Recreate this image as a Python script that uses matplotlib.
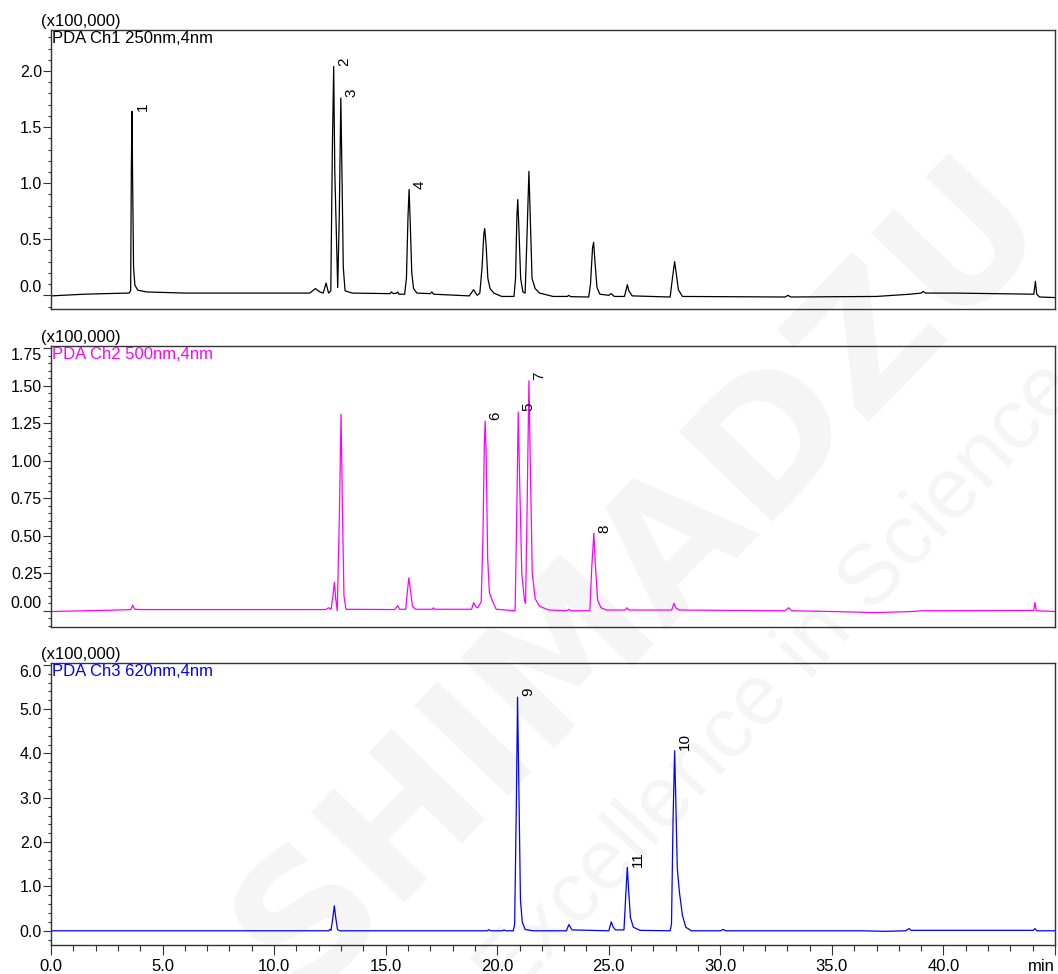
import numpy as np
import matplotlib.pyplot as plt
from matplotlib.ticker import MultipleLocator, FormatStrFormatter

plt.rcParams.update({
    "font.family": ["Liberation Sans", "DejaVu Sans"],
    "font.size": 11,
    "axes.linewidth": 1.0,
    "axes.edgecolor": "#333333",
})

# ---- chromatogram traces (time in min, signal in x100,000) ----
ch1_points = [
    (0.00, -0.005), (1.50, 0.010), (3.00, 0.018), (3.50, 0.020), (3.57, 0.040),
    (3.60, 1.100), (3.63, 1.640), (3.66, 1.000), (3.70, 0.250), (3.76, 0.090),
    (3.90, 0.045), (4.30, 0.030), (6.00, 0.020), (11.60, 0.020), (11.85, 0.060),
    (12.05, 0.030), (12.20, 0.020), (12.33, 0.110), (12.44, 0.020), (12.54, 0.040),
    (12.61, 1.300), (12.67, 2.040), (12.72, 1.100), (12.85, 0.070), (12.92, 0.700),
    (12.99, 1.760), (13.04, 1.100), (13.10, 0.250), (13.18, 0.040), (13.50, 0.020),
    (15.20, 0.015), (15.25, 0.030), (15.35, 0.015), (15.50, 0.020), (15.54, 0.030),
    (15.60, 0.010), (15.85, 0.010), (15.93, 0.150), (16.00, 0.700), (16.05, 0.945),
    (16.10, 0.650), (16.17, 0.200), (16.25, 0.060), (16.40, 0.020), (17.00, 0.015),
    (17.07, 0.030), (17.15, 0.010), (18.75, -0.005), (18.94, 0.050), (19.10, 0.000),
    (19.22, 0.020), (19.32, 0.250), (19.40, 0.550), (19.44, 0.595), (19.50, 0.450),
    (19.58, 0.150), (19.68, 0.060), (19.85, 0.020), (20.20, -0.010), (20.75, -0.010),
    (20.82, 0.150), (20.88, 0.700), (20.92, 0.854), (20.97, 0.600), (21.05, 0.150),
    (21.15, 0.030), (21.25, 0.020), (21.33, 0.500), (21.42, 1.106), (21.48, 0.700),
    (21.56, 0.150), (21.70, 0.060), (21.90, 0.020), (22.50, -0.010), (23.15, -0.010),
    (23.20, 0.000), (23.30, -0.012), (24.10, -0.015), (24.18, 0.100), (24.27, 0.420),
    (24.32, 0.473), (24.38, 0.300), (24.47, 0.070), (24.60, 0.010), (25.00, 0.000),
    (25.10, 0.015), (25.25, -0.010), (25.70, -0.010), (25.78, 0.050), (25.83, 0.095),
    (25.90, 0.040), (26.05, -0.005), (27.75, -0.015), (27.85, 0.150), (27.95, 0.300),
    (28.02, 0.200), (28.12, 0.050), (28.30, -0.010), (32.90, -0.015), (33.03, 0.000),
    (33.15, -0.015), (37.00, -0.010), (38.50, 0.010), (39.00, 0.020), (39.09, 0.035),
    (39.20, 0.020), (40.50, 0.020), (44.05, 0.010), (44.12, 0.125), (44.18, 0.010),
    (44.30, -0.015), (45.00, -0.020),
]

ch2_points = [
    (0.00, -0.005), (3.00, 0.005), (3.58, 0.008), (3.66, 0.037), (3.75, 0.010),
    (4.00, 0.008), (12.30, 0.008), (12.45, 0.020), (12.55, 0.010), (12.64, 0.100),
    (12.70, 0.190), (12.76, 0.080), (12.83, 0.000), (12.92, 0.600), (13.00, 1.310),
    (13.06, 0.700), (13.13, 0.100), (13.22, 0.010), (15.40, 0.008), (15.54, 0.034),
    (15.62, 0.010), (15.90, 0.010), (15.98, 0.140), (16.04, 0.220), (16.10, 0.150),
    (16.20, 0.030), (16.35, 0.010), (17.10, 0.010), (17.14, 0.020), (17.20, 0.010),
    (18.85, 0.010), (18.94, 0.054), (19.05, 0.025), (19.13, 0.020), (19.28, 0.060),
    (19.36, 0.500), (19.42, 1.100), (19.46, 1.265), (19.51, 1.000), (19.57, 0.350),
    (19.65, 0.120), (19.80, 0.060), (19.95, 0.010), (20.80, 0.000), (20.87, 0.600),
    (20.94, 1.325), (21.00, 0.900), (21.10, 0.250), (21.22, 0.070), (21.27, 0.050),
    (21.33, 0.600), (21.42, 1.534), (21.48, 1.000), (21.57, 0.250), (21.70, 0.080),
    (21.90, 0.030), (22.30, 0.005), (23.10, 0.000), (23.22, 0.010), (23.30, 0.000),
    (24.15, 0.000), (24.24, 0.300), (24.33, 0.517), (24.40, 0.300), (24.50, 0.070),
    (24.65, 0.020), (24.90, 0.005), (25.75, 0.005), (25.81, 0.020), (25.90, 0.005),
    (27.82, 0.005), (27.92, 0.050), (28.00, 0.020), (28.15, 0.005), (32.90, 0.000),
    (33.06, 0.020), (33.20, 0.000), (35.00, -0.005), (37.00, -0.012), (38.60, -0.005),
    (39.00, 0.000), (44.05, 0.002), (44.10, 0.055), (44.16, 0.000), (45.00, -0.005),
]

ch3_points = [
    (0.00, 0.000), (12.45, 0.000), (12.50, 0.030), (12.55, 0.010), (12.62, 0.250),
    (12.70, 0.565), (12.76, 0.300), (12.84, 0.030), (12.95, 0.000), (19.55, 0.000),
    (19.62, 0.025), (19.70, 0.000), (20.25, 0.000), (20.30, 0.020), (20.38, 0.000),
    (20.72, 0.000), (20.78, 0.150), (20.86, 3.000), (20.91, 5.270), (20.97, 3.200),
    (21.04, 0.700), (21.12, 0.200), (21.25, 0.030), (21.60, 0.000), (23.10, 0.000),
    (23.21, 0.140), (23.35, 0.020), (25.00, 0.000), (25.11, 0.200), (25.20, 0.080),
    (25.30, 0.020), (25.68, 0.020), (25.76, 0.800), (25.83, 1.430), (25.89, 0.900),
    (25.97, 0.300), (26.10, 0.080), (26.40, 0.010), (27.75, 0.000), (27.81, 0.150),
    (27.88, 2.500), (27.95, 4.060), (28.00, 3.000), (28.07, 1.400), (28.17, 0.850),
    (28.30, 0.350), (28.45, 0.080), (28.70, 0.000), (30.00, 0.000), (30.12, 0.030),
    (30.25, 0.000), (36.30, 0.000), (37.40, -0.012), (38.30, 0.000), (38.46, 0.050),
    (38.55, 0.010), (44.02, 0.010), (44.10, 0.050), (44.18, 0.000), (45.00, 0.000),
]

# peak numbers and their retention times
ch1_peak_labels = ["1", "2", "3", "4"]
ch1_peak_times = [3.63, 12.67, 12.99, 16.05]
ch2_peak_labels = ["6", "5", "7", "8"]
ch2_peak_times = [19.46, 20.94, 21.42, 24.33]
ch3_peak_labels = ["9", "11", "10"]
ch3_peak_times = [20.91, 25.83, 27.95]

channel_names = ["PDA Ch1 250nm,4nm", "PDA Ch2 500nm,4nm", "PDA Ch3 620nm,4nm"]
channel_colors = ["black", "#ff00ff", "#0000ff"]

x_tick_values = [0, 5, 10, 15, 20, 25, 30, 35, 40, 45]
x_tick_labels = ["0.0", "5.0", "10.0", "15.0", "20.0", "25.0", "30.0", "35.0", "40.0", "min"]

fig = plt.figure(figsize=(10.58, 9.74), dpi=100)

# faint watermark behind everything
fig.text(0.605, 0.41, "SHIMADZU", fontsize=128, fontweight="bold",
         family="DejaVu Sans", color="#f5f5f5", rotation=46,
         ha="center", va="center", rotation_mode="anchor", zorder=-5)
fig.text(0.735, 0.30, "Excellence in Science", fontsize=62,
         color="#f5f5f5", rotation=47, ha="center", va="center",
         rotation_mode="anchor", zorder=-5)

# axes boxes: [left, bottom, width, height]
boxes = [
    [0.0482, 0.6824, 0.9490, 0.2868],
    [0.0482, 0.3563, 0.9490, 0.2888],
    [0.0482, 0.0298, 0.9490, 0.2895],
]
ylims = [(-0.125, 2.366), (-0.108, 1.768), (-0.32, 6.04)]
y_major = [0.5, 0.25, 1.0]
y_minor = [0.1, 0.05, 0.2]
y_fmt = ["%.1f", "%.2f", "%.1f"]

all_points = [ch1_points, ch2_points, ch3_points]
all_labels = [ch1_peak_labels, ch2_peak_labels, ch3_peak_labels]
all_times = [ch1_peak_times, ch2_peak_times, ch3_peak_times]

for i in range(3):
    ax = fig.add_axes(boxes[i])
    ax.patch.set_alpha(0.0)
    t = np.array([p[0] for p in all_points[i]])
    s = np.array([p[1] for p in all_points[i]])
    ax.plot(t, s, color=channel_colors[i], lw=0.9)

    for lab, pt in zip(all_labels[i], all_times[i]):
        k = np.argmin(np.abs(t - pt))
        ax.annotate(lab, xy=(t[k], s[k]), xytext=(2.5, 0.5),
                    textcoords="offset points", rotation=90,
                    ha="left", va="bottom", fontsize=11, color="black")

    ax.set_xlim(0, 45)
    ax.set_ylim(*ylims[i])
    ax.yaxis.set_major_locator(MultipleLocator(y_major[i]))
    ax.yaxis.set_minor_locator(MultipleLocator(y_minor[i]))
    ax.yaxis.set_major_formatter(FormatStrFormatter(y_fmt[i]))
    ax.tick_params(axis="y", which="major", direction="out", length=5.5,
                   width=0.8, color="#333333", labelsize=11.5, pad=1)
    ax.tick_params(axis="y", which="minor", direction="out", length=2.5,
                   width=0.8, color="#333333")

    if i < 2:
        ax.tick_params(axis="x", which="both", bottom=False, labelbottom=False)
    else:
        ax.set_xticks(x_tick_values)
        ax.set_xticklabels(x_tick_labels)
        ax.xaxis.set_minor_locator(MultipleLocator(1))
        ax.tick_params(axis="x", which="major", direction="out", length=7,
                       width=0.8, color="#333333", labelsize=12, pad=3)
        ax.tick_params(axis="x", which="minor", direction="out", length=4,
                       width=0.8, color="#333333")
        ax.get_xticklabels()[-1].set_ha("right")

    # keep edge tick labels inside the box like the instrument software
    ylabels = ax.get_yticklabels()
    ylocs = ax.get_yticks()
    lo, hi = ylims[i]
    for lbl, loc in zip(ylabels, ylocs):
        if loc < lo or loc > hi:
            continue
        if i < 2 and abs(loc) < 1e-9:
            lbl.set_va("bottom")
        elif hi - loc < 0.06 * (hi - lo):
            lbl.set_va("top")

    ax.annotate("(x100,000)", xy=(0, 1), xycoords="axes fraction",
                xytext=(-7, 0.5), textcoords="offset points",
                ha="left", va="bottom", fontsize=12)
    ax.text(0.001, 0.997, channel_names[i], transform=ax.transAxes,
            ha="left", va="top", fontsize=12, color=channel_colors[i])

fig.savefig("out.png", dpi=100)
